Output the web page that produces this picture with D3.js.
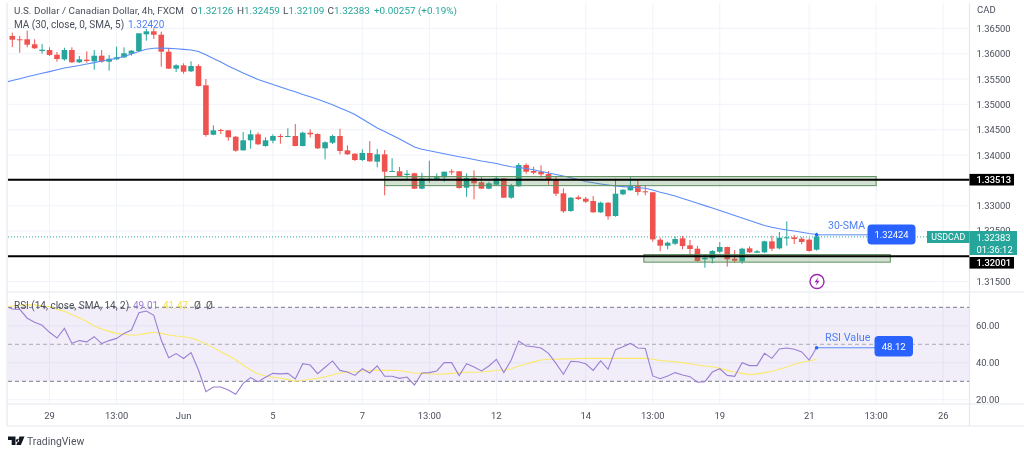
<!DOCTYPE html>
<html><head><meta charset="utf-8">
<script src="https://cdn.jsdelivr.net/npm/d3@7/dist/d3.min.js"></script>
<style>html,body{margin:0;padding:0;background:#fff;overflow:hidden}svg{display:block;filter:blur(0.4px)}text{font-family:Roboto,"Liberation Sans",sans-serif}</style>
</head><body><div id="c"></div>
<script>
const opens=[1.36304,1.36240,1.36240,1.36142,1.36011,1.36030,1.35938,1.35848,1.36030,1.35790,1.35841,1.35809,1.35919,1.35802,1.35848,1.35887,1.35958,1.36011,1.36337,1.36396,1.36329,1.35997,1.35665,1.35731,1.35614,1.35717,1.35340,1.34374,1.34466,1.34460,1.34335,1.34069,1.34265,1.34382,1.34153,1.34257,1.34349,1.34329,1.34349,1.34153,1.34413,1.34388,1.34108,1.34218,1.34349,1.34069,1.34003,1.33880,1.34017,1.33847,1.33991,1.33651,1.33659,1.33587,1.33620,1.33319,1.33508,1.33508,1.33542,1.33659,1.33659,1.33338,1.33528,1.33444,1.33319,1.33397,1.33522,1.33143,1.33366,1.33782,1.33665,1.33651,1.33606,1.33502,1.33229,1.32883,1.33151,1.33123,1.33078,1.32857,1.33045,1.32785,1.33209,1.33287,1.33371,1.33268,1.33248,1.32322,1.32204,1.32243,1.32349,1.32212,1.32146,1.31938,1.31958,1.32087,1.32179,1.31950,1.31899,1.32153,1.32067,1.32075,1.32290,1.32153,1.32349,1.32368,1.32341,1.32322,1.32126];
const highs=[1.36368,1.36304,1.36408,1.36240,1.36148,1.36083,1.35991,1.36075,1.36083,1.35913,1.36005,1.36030,1.36030,1.35933,1.36095,1.36083,1.36030,1.36357,1.36441,1.36454,1.36388,1.36064,1.35751,1.35770,1.35809,1.35751,1.35463,1.34558,1.34492,1.34466,1.34349,1.34427,1.34466,1.34421,1.34324,1.34382,1.34388,1.34500,1.34584,1.34433,1.34480,1.34402,1.34245,1.34374,1.34492,1.34167,1.34011,1.34089,1.34251,1.34095,1.34075,1.33913,1.33743,1.33684,1.33631,1.33631,1.33866,1.33620,1.33651,1.33698,1.33665,1.33620,1.33678,1.33542,1.33456,1.33567,1.33528,1.33411,1.33821,1.33815,1.33749,1.33776,1.33665,1.33567,1.33326,1.33156,1.33190,1.33156,1.33176,1.33065,1.33059,1.33514,1.33307,1.33542,1.33489,1.33391,1.33254,1.32361,1.32283,1.32388,1.32394,1.32316,1.32198,1.32023,1.32120,1.32277,1.32185,1.32120,1.32165,1.32193,1.32120,1.32302,1.32400,1.32472,1.32681,1.32413,1.32374,1.32349,1.32459];
const lows=[1.36089,1.35977,1.36083,1.36050,1.35958,1.35913,1.35802,1.35821,1.35776,1.35776,1.35782,1.35645,1.35782,1.35626,1.35835,1.35874,1.35919,1.35997,1.36212,1.36245,1.35704,1.35659,1.35600,1.35567,1.35600,1.35313,1.34335,1.34363,1.34388,1.34257,1.34042,1.34062,1.34101,1.34173,1.34140,1.34206,1.34198,1.34329,1.34148,1.34148,1.34316,1.34095,1.33893,1.34193,1.33991,1.33978,1.33860,1.33860,1.33841,1.33737,1.33190,1.33651,1.33547,1.33502,1.33313,1.33307,1.33436,1.33475,1.33456,1.33592,1.33319,1.33162,1.33111,1.33313,1.33307,1.33385,1.33137,1.33123,1.33358,1.33612,1.33600,1.33534,1.33397,1.33176,1.32849,1.32869,1.33098,1.33039,1.32849,1.32844,1.32713,1.32771,1.33190,1.33280,1.33190,1.33190,1.32283,1.32095,1.32134,1.32218,1.32134,1.32023,1.31891,1.31774,1.31860,1.32056,1.31794,1.31880,1.31852,1.32062,1.32062,1.32062,1.32101,1.32134,1.32204,1.32238,1.32232,1.32087,1.32109];
const closes=[1.36232,1.36232,1.36134,1.36064,1.36036,1.35933,1.35854,1.36030,1.35790,1.35848,1.35815,1.35919,1.35802,1.35860,1.35887,1.35966,1.36017,1.36357,1.36396,1.36329,1.35997,1.35665,1.35731,1.35606,1.35717,1.35327,1.34369,1.34460,1.34453,1.34324,1.34062,1.34265,1.34382,1.34187,1.34265,1.34349,1.34329,1.34349,1.34153,1.34413,1.34382,1.34108,1.34226,1.34349,1.34056,1.33991,1.33880,1.34017,1.33854,1.33991,1.33651,1.33665,1.33567,1.33612,1.33319,1.33522,1.33514,1.33542,1.33651,1.33645,1.33332,1.33528,1.33424,1.33319,1.33424,1.33522,1.33143,1.33377,1.33782,1.33651,1.33631,1.33600,1.33495,1.33221,1.32877,1.33143,1.33117,1.33065,1.32857,1.33045,1.32779,1.33221,1.33299,1.33371,1.33254,1.33248,1.32329,1.32204,1.32263,1.32335,1.32198,1.32140,1.31905,1.31970,1.32101,1.32179,1.31938,1.31911,1.32146,1.32075,1.32095,1.32290,1.32146,1.32361,1.32368,1.32335,1.32277,1.32101,1.32383];
// moving average and RSI series start one bar before the first visible candle
const sma30=[1.35395,1.35434,1.35469,1.35506,1.35542,1.35575,1.35608,1.35643,1.35678,1.35704,1.35727,1.35757,1.35784,1.35815,1.35839,1.35868,1.35903,1.35952,1.36001,1.36044,1.36065,1.36069,1.36062,1.36054,1.36042,1.36030,1.36001,1.35936,1.35864,1.35796,1.35717,1.35649,1.35581,1.35518,1.35454,1.35405,1.35354,1.35307,1.35258,1.35213,1.35160,1.35115,1.35066,1.35014,1.34961,1.34896,1.34838,1.34769,1.34681,1.34593,1.34505,1.34437,1.34363,1.34290,1.34212,1.34134,1.34089,1.34062,1.34032,1.34001,1.33972,1.33942,1.33919,1.33890,1.33860,1.33835,1.33811,1.33776,1.33749,1.33733,1.33714,1.33688,1.33655,1.33626,1.33596,1.33567,1.33534,1.33499,1.33459,1.33434,1.33411,1.33391,1.33371,1.33360,1.33352,1.33338,1.33328,1.33293,1.33250,1.33215,1.33176,1.33127,1.33082,1.33035,1.32988,1.32941,1.32892,1.32844,1.32795,1.32746,1.32697,1.32648,1.32599,1.32564,1.32535,1.32511,1.32492,1.32466,1.32443,1.32424];
const rsi=[70.7,69.1,68.9,64.1,61.9,60.3,56.5,53.4,58.6,50.5,52.0,51.3,54.1,50.4,52.0,53.2,55.9,57.7,67.1,68.0,65.7,52.3,42.8,45.0,42.3,45.5,36.1,24.4,26.9,26.9,25.3,23.0,28.9,32.0,29.8,32.2,34.3,34.0,34.3,31.3,39.5,38.8,34.1,37.6,41.0,35.9,35.0,33.2,36.8,34.5,38.3,32.7,32.7,31.6,32.3,28.0,34.5,34.7,35.6,40.1,40.1,33.1,39.5,37.7,35.6,38.3,41.9,34.7,41.5,51.8,49.1,48.7,48.0,45.1,39.7,33.8,40.8,40.6,39.5,35.9,41.0,36.5,47.1,48.7,50.5,48.0,47.7,32.9,31.4,32.9,34.7,33.4,32.5,29.5,29.8,35.0,36.8,33.2,32.7,40.1,38.5,38.5,45.1,42.4,47.5,48.0,47.3,45.9,41.5,48.12];
const rsiMa=[70.4,70.7,71.1,71.3,71.3,70.7,70.4,68.9,67.8,66.0,64.4,62.3,59.9,58.3,57.0,55.9,55.4,54.9,55.2,55.9,56.5,55.9,55.0,54.5,54.1,53.4,52.0,50.2,48.2,46.0,43.9,41.5,38.8,36.1,33.9,32.9,32.2,31.8,30.9,30.0,30.4,31.1,31.6,32.5,33.4,34.5,35.0,35.2,35.6,35.8,35.9,35.9,35.9,35.8,35.2,34.5,34.3,34.1,33.8,34.0,34.3,34.7,34.9,34.9,35.0,35.4,35.8,36.1,36.8,38.3,39.4,40.5,41.5,41.9,41.9,42.1,42.1,42.3,42.4,42.4,42.4,42.4,42.4,42.4,42.4,42.4,42.4,41.9,41.2,41.0,40.5,40.1,39.5,38.8,38.3,37.9,37.0,35.9,35.0,34.3,33.6,34.0,34.7,35.4,36.5,37.7,39.2,40.3,41.0,41.9];
const priceTicks=[1.365,1.36,1.355,1.35,1.345,1.34,1.335,1.33,1.325,1.32,1.315];
const rsiTicks=[60,40,20];
const timeTickBars=[5,14,23,35,47,56,65,77,86,95,107,116,125];
const timeTickLabels=["29","13:00","Jun","5","7","13:00","12","14","13:00","19","21","13:00","26"];
const levels=[1.33513,1.32001];
const zones=[{from:50,to:116,hi:1.33575,lo:1.33395},{from:84.8,to:117.9,hi:1.32035,lo:1.31885}];
const lastClose=1.32383, lastSma=1.32424, lastRsi=48.12;

const W=1024,H=455,L=8,R=969.5;
// picture-read prices were taken on a slightly coarser ruler; align them to the axis ticks
const ruler=v=>1.3167+(v-1.3167)*1.0097;
const x=d3.scaleLinear().domain([0,108]).range([12.3,816.6]);
const y=d3.scaleLinear().domain([1.34,1.315]).range([155,281.65]);
const yr=d3.scaleLinear().domain([50,30]).range([344.3,381.3]);
const candles=opens.map((o,i)=>({i,o:ruler(o),h:ruler(highs[i]),l:ruler(lows[i]),c:ruler(closes[i])}));
const GREEN="#26a69a",RED="#ef5350",GRID="#f0f3fa",BORDER="#e6e8ef",TXT="#4a4e5a",BLUE="#2962ff";

const svg=d3.select("#c").append("svg").attr("width",W).attr("height",H);
svg.append("rect").attr("width",W).attr("height",H).attr("fill","#fff");
const defs=svg.append("defs");
defs.append("clipPath").attr("id","pm").append("rect").attr("x",L).attr("y",3).attr("width",R-L).attr("height",289);
defs.append("clipPath").attr("id","pr").append("rect").attr("x",L).attr("y",293).attr("width",R-L).attr("height",111);

// grid
const g=svg.append("g");
g.selectAll(".v").data(timeTickBars).join("line").attr("x1",d=>x(d)).attr("x2",d=>x(d)).attr("y1",3).attr("y2",404).attr("stroke",GRID);
g.selectAll(".h").data(priceTicks).join("line").attr("x1",L).attr("x2",R).attr("y1",d=>y(d)).attr("y2",d=>y(d)).attr("stroke",GRID);
g.selectAll(".hr").data(rsiTicks).join("line").attr("x1",L).attr("x2",R).attr("y1",d=>yr(d)).attr("y2",d=>yr(d)).attr("stroke",GRID);

// borders
const frame=[[L-1,3,L-1,426],[L-1,292,W,292],[L-1,404,W,404],[L-1,426,W,426],[R,3,R,426]];
g.selectAll(".b").data(frame).join("line").attr("x1",d=>d[0]).attr("y1",d=>d[1]).attr("x2",d=>d[2]).attr("y2",d=>d[3]).attr("stroke",BORDER).attr("stroke-width",1.2);

// main pane
const pm=svg.append("g").attr("clip-path","url(#pm)");
pm.append("line").attr("x1",L).attr("x2",R).attr("y1",y(lastClose)).attr("y2",y(lastClose)).attr("stroke",GREEN).attr("stroke-dasharray","1 2");
const cg=pm.selectAll(".c").data(candles).join("g");
const col=d=>d.c>=d.o?GREEN:RED;
cg.append("line").attr("x1",d=>x(d.i)).attr("x2",d=>x(d.i)).attr("y1",d=>y(d.h)).attr("y2",d=>y(d.l)).attr("stroke",col).attr("stroke-width",1);
cg.append("rect").attr("x",d=>x(d.i)-2.8).attr("width",5.6)
 .attr("y",d=>y(Math.max(d.o,d.c))).attr("height",d=>Math.max(1,Math.abs(y(d.o)-y(d.c)))).attr("fill",col);
pm.append("path").attr("fill","none").attr("stroke","#5c8cf7").attr("stroke-width",1.1)
 .attr("d",d3.line().x((d,i)=>x(i-1)).y(d=>y(ruler(d)))(sma30));
pm.selectAll(".z").data(zones).join("rect")
 .attr("x",d=>x(d.from)).attr("width",d=>x(d.to)-x(d.from)).attr("y",d=>y(d.hi)).attr("height",d=>y(d.lo)-y(d.hi))
 .attr("fill","rgba(76,135,76,.25)").attr("stroke","#5f8f5f").attr("stroke-width",1);
pm.selectAll(".lv").data(levels).join("line").attr("x1",L).attr("x2",R).attr("y1",d=>y(d)).attr("y2",d=>y(d)).attr("stroke","#000").attr("stroke-width",2);

// annotation to the SMA
svg.append("line").attr("x1",x(108)).attr("x2",868).attr("y1",y(lastSma)).attr("y2",y(lastSma)).attr("stroke","#5c8cf7").attr("stroke-width",1);
svg.append("circle").attr("cx",x(108)).attr("cy",y(lastSma)).attr("r",1.8).attr("fill",BLUE);
const t=(s,xx,yy,sz,fill,anchor)=>svg.append("text").attr("x",xx).attr("y",yy).attr("font-size",sz).attr("fill",fill).attr("text-anchor",anchor||"start").attr("dominant-baseline","central").text(s);
t("30-SMA",828,225,10.5,"#4f7ff5");
svg.append("rect").attr("x",867.5).attr("y",224.5).attr("width",48).attr("height",20).attr("rx",4).attr("fill",BLUE);
t("1.32424",891.5,234.8,9.4,"#fff","middle");

// event icon
svg.append("circle").attr("cx",817).attr("cy",281.5).attr("r",7).attr("fill","#fff").attr("stroke","#9c27b0").attr("stroke-width",1.4);
svg.append("path").attr("d","M818.5 277 L814.5 282.3 L817 282.3 L815.6 286 L819.6 280.7 L817.1 280.7 Z").attr("fill","#9c27b0");

// rsi pane
const pr=svg.append("g").attr("clip-path","url(#pr)");
pr.append("rect").attr("x",L).attr("width",R-L).attr("y",yr(70)).attr("height",yr(30)-yr(70)).attr("fill","rgba(126,87,194,.1)");
pr.selectAll(".rl").data([70,50,30]).join("line").attr("x1",L).attr("x2",R).attr("y1",d=>yr(d)).attr("y2",d=>yr(d))
 .attr("stroke",d=>d===50?"#a9abb5":"#787b86").attr("stroke-dasharray","4 3");
pr.append("path").attr("fill","none").attr("stroke","#fbe96a").attr("stroke-width",1.1).attr("d",d3.line().x((d,i)=>x(i-1)).y(d=>yr(d))(rsiMa));
pr.append("path").attr("fill","none").attr("stroke","#9b7fd4").attr("stroke-width",1.1).attr("d",d3.line().x((d,i)=>x(i-1)).y(d=>yr(d))(rsi));
svg.append("line").attr("x1",x(108)).attr("x2",875).attr("y1",yr(lastRsi)).attr("y2",yr(lastRsi)).attr("stroke","#5c8cf7");
svg.append("circle").attr("cx",x(108)).attr("cy",yr(lastRsi)).attr("r",1.8).attr("fill",BLUE);
t("RSI Value",825,337,10.8,"#4f7ff5");
svg.append("rect").attr("x",874.5).attr("y",336).attr("width",38.5).attr("height",20.5).attr("rx",4).attr("fill",BLUE);
t("48.12",893.7,346.8,9.6,"#fff","middle");

// axes
t("CAD",977,9,9.5,TXT);
svg.append("g").selectAll("text").data(priceTicks.filter(d=>d!==1.335&&d!==1.32)).join("text")
 .attr("x",976.5).attr("y",d=>y(d)).attr("dominant-baseline","central").attr("font-size",9.4).attr("fill",TXT).text(d=>d3.format(".5f")(d));
svg.append("g").selectAll("text").data(rsiTicks).join("text")
 .attr("x",976).attr("y",d=>yr(d)-0.5).attr("dominant-baseline","central").attr("font-size",9.4).attr("fill",TXT).text(d=>d3.format(".2f")(d));
svg.append("g").selectAll("text").data(timeTickBars).join("text")
 .attr("x",d=>x(d)).attr("y",415).attr("text-anchor","middle").attr("dominant-baseline","central").attr("font-size",9.4).attr("fill",TXT).text((d,i)=>timeTickLabels[i]);

// price labels
levels.forEach((lv,i)=>{
 const cy=i?262.8:179.7;
 svg.append("rect").attr("x",969.5).attr("y",cy-5.8).attr("width",44.5).attr("height",11.6).attr("fill","#000");
 t(d3.format(".5f")(lv),976.5,cy,9.4,"#fff").attr("font-weight",500);
});
svg.append("rect").attr("x",969.5).attr("y",231).attr("width",47.5).attr("height",24).attr("fill",GREEN);
t("1.32383",976.5,237.6,9.4,"#fff");
t("01:36:12",976.5,249,9.4,"#fff");
svg.append("rect").attr("x",927).attr("y",231).attr("width",42.5).attr("height",12).attr("fill",GREEN);
t("USDCAD",948.3,237.3,8.8,"#fff","middle");

// legends
const leg=(yy,sz,parts)=>{const e=svg.append("text").attr("y",yy).attr("dominant-baseline","central").attr("font-size",sz);
 parts.forEach(p=>e.append("tspan").attr("x",p[0]).attr("fill",p[2]).text(p[1]));};
leg(10,9.9,[[14,"U.S. Dollar / Canadian Dollar, 4h, FXCM",TXT],[190.7,"O",TXT],[197.5,"1.32126",GREEN],[237,"H",TXT],[244,"1.32459",GREEN],[283,"L",TXT],[288.5,"1.32109",GREEN],[327.5,"C",TXT],[334,"1.32383",GREEN],[374,"+0.00257 (+0.19%)",GREEN]]);
leg(24,10,[[14,"MA (30, close, 0, SMA, 5)",TXT],[128,"1.32420","#4f7ff5"]]);
leg(304.5,10,[[14,"RSI (14, close, SMA, 14, 2)",TXT],[133,"49.01","#9b7fd4"],[163,"41.47","#f5e050"],[194,"Ø",TXT],[206,"Ø",TXT]]);

// logo
svg.append("path").attr("fill","#131722").attr("d","M8 436.5 h7.5 v8.5 h-3.8 v-5 h-3.7 Z M17.5 439 a1.6 1.6 0 1 0 0.01 0 Z M19.5 436.5 h5 l-3.6 8.5 h-4.6 Z");
t("TradingView",27,441,10.4,"#50535e");
</script></body></html>
